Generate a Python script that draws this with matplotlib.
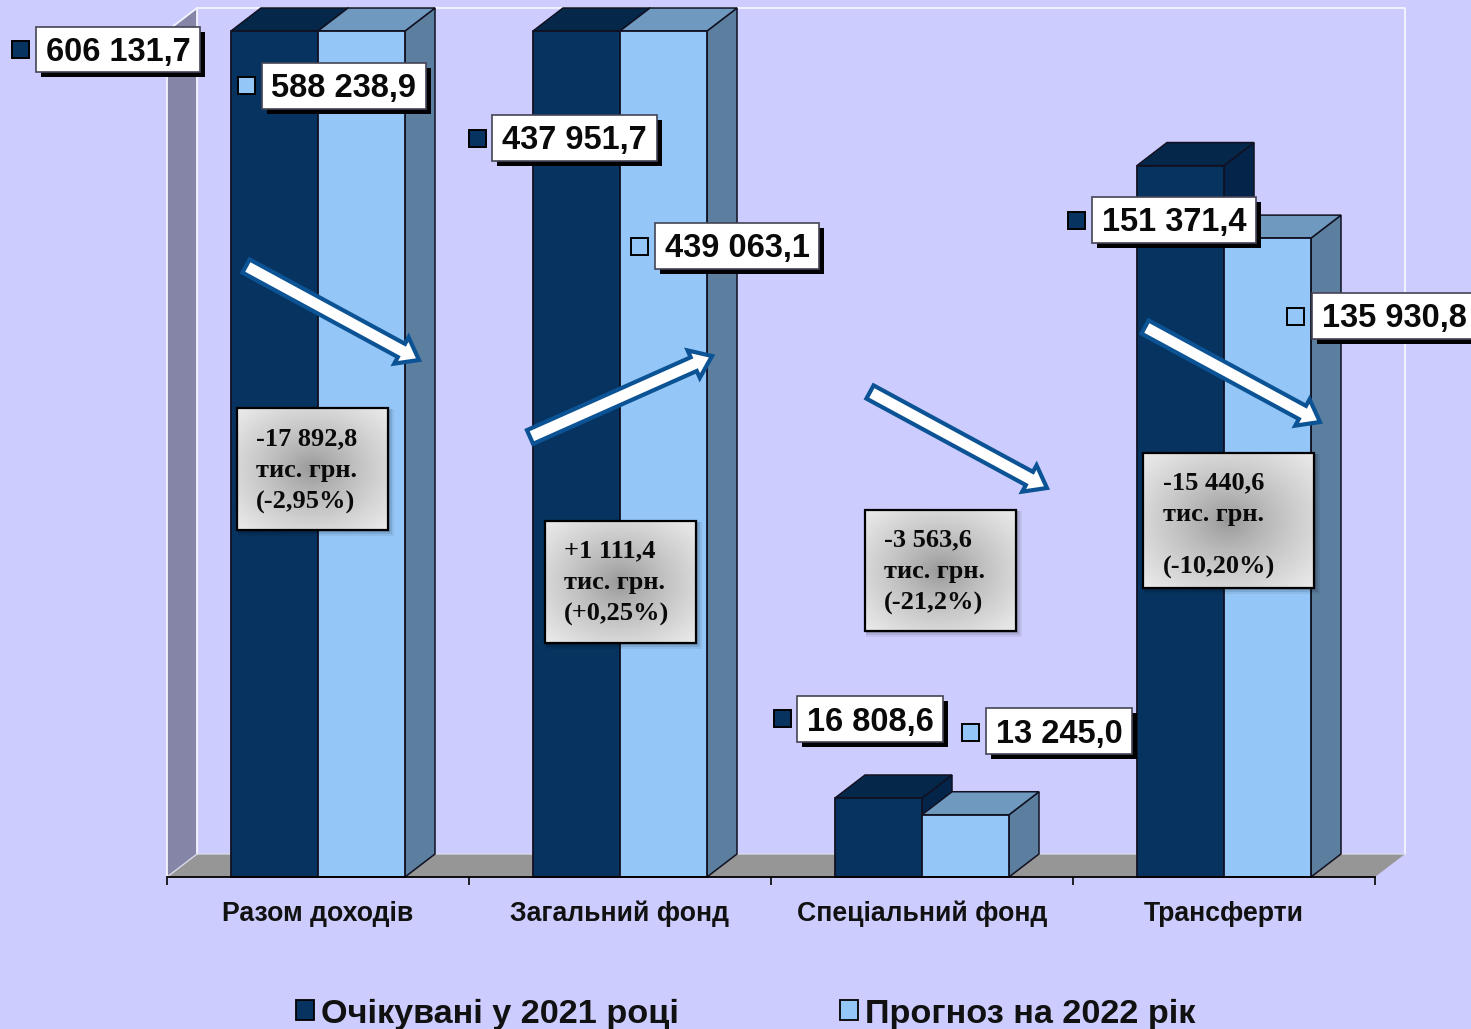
import numpy as np
import matplotlib
matplotlib.use("Agg")
import matplotlib.pyplot as plt
from matplotlib.patches import Polygon, Rectangle, FancyArrow, Patch

# ---- data ----
categories = ["Разом доходів", "Загальний фонд", "Спеціальний фонд", "Трансферти"]
series_names = ["Очікувані у 2021 році", "Прогноз на 2022 рік"]
expected_2021 = [606131.7, 437951.7, 16808.6, 151371.4]
forecast_2022 = [588238.9, 439063.1, 13245.0, 135930.8]
delta_notes = [
    "-17 892,8\nтис. грн.\n(-2,95%)",
    "+1 111,4\nтис. грн.\n(+0,25%)",
    "-3 563,6\nтис. грн.\n(-21,2%)",
    "-15 440,6\nтис. грн.\n\n(-10,20%)",
]

# ---- styles ----
W, H = 1471, 1029
BG = "#CCCCFF"
DARK, DARK_TOP, DARK_SIDE = "#06335F", "#05284A", "#04244A"
LIGHT, LIGHT_TOP, LIGHT_SIDE = "#94C6F8", "#6F99BE", "#5C7E9F"
ARROW_BLUE = "#0B5394"
SANS = "Liberation Sans"
SERIF = "Liberation Serif"
YMAX = 180000
BAR_W = 87 / 302
DX = 30 / 302
DY = 23 * YMAX / 846
EDGE = "#111122"

fig = plt.figure(figsize=(W / 100, H / 100), dpi=100, facecolor=BG)
ax = fig.add_axes([167 / W, (H - 877) / H, 1208 / W, 846 / H])
ax.set_facecolor("none")
ax.set_xlim(-0.5, 3.5)
ax.set_ylim(0, YMAX)
for s in ["top", "left", "right"]:
    ax.spines[s].set_visible(False)
ax.spines["bottom"].set_linewidth(1.3)
ax.spines["bottom"].set_zorder(50)
ax.set_yticks([])
ax.set_xticks(np.arange(-0.5, 4, 1))
ax.set_xticklabels([])
ax.tick_params(axis="x", which="major", length=6, width=1.2)
ax.set_xticks(np.arange(4), minor=True)
ax.set_xticklabels(categories, minor=True, fontfamily=SANS, fontweight="bold",
                   fontsize=19.2, color="#111111")
ax.tick_params(axis="x", which="minor", length=0, pad=17)

# walls and floor
L, R = -0.5, 3.5
ax.add_patch(Polygon([(L, 0), (L + DX, DY), (L + DX, YMAX + DY), (L, YMAX)],
                     fc="#8585A8", ec="none", clip_on=False, zorder=1))
ax.add_patch(Polygon([(L, 0), (R, 0), (R + DX, DY), (L + DX, DY)],
                     fc="#969696", ec="none", clip_on=False, zorder=1))
ax.plot([L, L + DX, R + DX, R + DX], [YMAX, YMAX + DY, YMAX + DY, DY],
        color="#F4F4FF", lw=1.3, clip_on=False, zorder=2)
ax.plot([L + DX, L + DX], [DY, YMAX + DY], color="#F4F4FF", lw=1.3, clip_on=False, zorder=2)
ax.plot([L, L], [0, YMAX], color="#F4F4FF", lw=1.3, clip_on=False, zorder=2)
ax.plot([L, L + DX, R + DX], [0, DY, DY], color="#D8D8E8", lw=1.0, clip_on=False, zorder=2)


def draw_box(left, value, front, top_c, side_c, z):
    """One pseudo-3D bar: side and top faces from the value, then the front bar."""
    h = min(value, YMAX)
    x0, x1 = left, left + BAR_W
    ax.add_patch(Polygon([(x1, 0), (x1 + DX, DY), (x1 + DX, h + DY), (x1, h)],
                         fc=side_c, ec=EDGE, lw=1.1, clip_on=False, zorder=z))
    ax.add_patch(Polygon([(x0, h), (x1, h), (x1 + DX, h + DY), (x0 + DX, h + DY)],
                         fc=top_c, ec=EDGE, lw=1.1, clip_on=False, zorder=z))
    ax.bar(x0, h, width=BAR_W, align="edge", color=front, edgecolor=EDGE, lw=1.3,
           clip_on=False, zorder=z + 0.5)


for i in range(len(categories)):
    draw_box(i - BAR_W, expected_2021[i], DARK, DARK_TOP, DARK_SIDE, 5 + i * 4)
    draw_box(i, forecast_2022[i], LIGHT, LIGHT_TOP, LIGHT_SIDE, 7 + i * 4)

# legend
handles = [Patch(fc=DARK, ec="black", lw=1.3), Patch(fc=LIGHT, ec="black", lw=1.3)]
fig.legend(handles, series_names, loc="center left",
           bbox_to_anchor=(296 / W, 1 - 1014 / H), ncol=2, frameon=False,
           prop={"family": SANS, "weight": "bold", "size": 24.7},
           handlelength=0.52, handleheight=0.52, handletextpad=0.22, columnspacing=4.68,
           labelcolor="#111111", borderpad=0, borderaxespad=0)

# overlay in pixel coordinates for annotations
ov = fig.add_axes([0, 0, 1, 1], facecolor="none")
ov.set_xlim(0, W)
ov.set_ylim(H, 0)
ov.axis("off")


def fmt(v):
    whole, frac = f"{v:.1f}".split(".")
    return f"{int(whole):,}".replace(",", " ") + "," + frac


def value_label(v, color, box, marker):
    x0, y0, x1, y1 = box
    ov.add_patch(Rectangle((x0 + 5, y0 + 5), x1 - x0, y1 - y0, fc="black", ec="none", zorder=10))
    ov.add_patch(Rectangle((x0, y0), x1 - x0, y1 - y0, fc="white", ec="#444455", lw=1.2, zorder=11))
    ov.add_patch(Rectangle((marker[0] - 8.5, marker[1] - 8.5), 17, 17, fc=color, ec="black",
                           lw=1.4, zorder=11))
    ov.text((x0 + x1) / 2, y0 + 34.5, fmt(v), ha="center", va="baseline",
            fontfamily=SANS, fontweight="bold", fontsize=23.5, color="#0A0A0A", zorder=12)


dark_boxes = [(36, 27, 200, 72), (492, 115, 657, 161), (797, 696, 943, 742), (1092, 197, 1256, 243)]
dark_marks = [(21, 49), (478, 138), (783, 718), (1077, 220)]
light_boxes = [(262, 63, 426, 109), (655, 223, 819, 269), (986, 708, 1132, 754), (1312, 293, 1476, 339)]
light_marks = [(247, 85), (640, 246), (971, 732), (1296, 316)]
for v, b, m in zip(expected_2021, dark_boxes, dark_marks):
    value_label(v, DARK, b, m)
for v, b, m in zip(forecast_2022, light_boxes, light_marks):
    value_label(v, LIGHT, b, m)

# arrows
arrows = [((246, 266), (419, 360)), ((530, 437), (712, 356)),
          ((870, 392), (1047, 488)), ((1145, 327), (1320, 422))]
for (xa, ya), (xb, yb) in arrows:
    ov.add_patch(FancyArrow(xa, ya, xb - xa, yb - ya, width=15, head_width=30, head_length=20,
                            length_includes_head=True, fc="white", ec=ARROW_BLUE, lw=3.0,
                            joinstyle="miter", zorder=9))

# note boxes with radial grey gradient
note_boxes = [(237, 408, 388, 530), (545, 521, 696, 643), (865, 510, 1016, 631), (1143, 453, 1314, 588)]
note_text_x = [256, 564, 884, 1163]
note_baselines = [[445, 477, 509], [557, 589, 621], [546, 578, 610], [489, 521.5, 547.5, 574]]
yy, xx = np.mgrid[-1:1:120j, -1:1:120j]
rad = np.clip(np.sqrt(xx ** 2 + yy ** 2) / np.sqrt(2), 0, 1)
grad = 0.58 + (0.92 - 0.58) * rad ** 0.75
for (x0, y0, x1, y1), note, tx, ys in zip(note_boxes, delta_notes, note_text_x, note_baselines):
    for k, a in zip([5, 3, 1], [0.06, 0.1, 0.14]):
        ov.add_patch(Rectangle((x0 + 1, y0 + 1), x1 - x0 + k, y1 - y0 + k, fc="black", ec="none",
                               alpha=a, zorder=13))
    ov.imshow(grad, cmap="gray", vmin=0, vmax=1, extent=(x0, x1, y1, y0), aspect="auto",
              interpolation="bilinear", zorder=14)
    ov.add_patch(Rectangle((x0, y0), x1 - x0, y1 - y0, fc="none", ec="black", lw=1.6, zorder=15))
    for line, y in zip(note.split("\n"), ys):
        if line:
            ov.text(tx, y, line, ha="left", va="baseline", fontfamily=SERIF,
                    fontweight="bold", fontsize=19, color="#0A0A0A", zorder=16)
ov.set_xlim(0, W)
ov.set_ylim(H, 0)

fig.savefig("out.png", dpi=100, facecolor=BG)
